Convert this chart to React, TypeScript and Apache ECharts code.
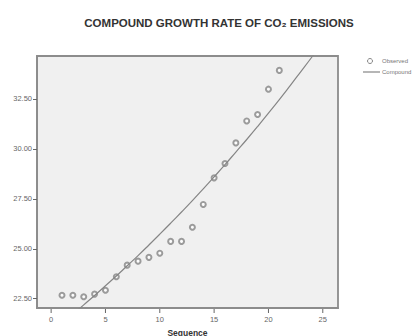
import React, { useEffect, useRef } from "react";
import * as echarts from "echarts";

const sequence = [1, 2, 3, 4, 5, 6, 7, 8, 9, 10, 11, 12, 13, 14, 15, 16, 17, 18, 19, 20, 21];
const observed = [22.67, 22.67, 22.6, 22.73, 22.92, 23.6, 24.18, 24.38, 24.57, 24.78, 25.37, 25.37, 26.08, 27.22, 28.55, 29.27, 30.3, 31.4, 31.72, 32.99, 33.93];
const curveX = [2, 3, 4, 5, 6, 7, 8, 9, 10, 11, 12, 13, 14, 15, 16, 17, 18, 19, 20, 21, 22, 23, 24, 25];
const compound = [21.72, 22.19, 22.66, 23.15, 23.64, 24.15, 24.66, 25.19, 25.73, 26.28, 26.84, 27.41, 28.0, 28.6, 29.21, 29.84, 30.47, 31.12, 31.79, 32.47, 33.17, 33.88, 34.6, 35.34];
const xTicks = [0, 5, 10, 15, 20, 25];
const yTicks = [22.5, 25, 27.5, 30, 32.5];
const legendNames = ["Observed", "Compound"];

const X_MIN = -1.3;
const X_MAX = 26.4;
const Y_MIN = 22.035;
const Y_MAX = 34.65;

export default function App() {
  const ref = useRef<HTMLDivElement>(null);
  useEffect(() => {
    if (!ref.current) return;
    const chart = echarts.init(ref.current, null, { renderer: "svg" });
    const font = "Liberation Sans, Arial, sans-serif";
    const markColor = "#858585";
    const frame = "#8c8c8c";
    const tickColor = "#666";
    chart.setOption({
      animation: false,
      backgroundColor: "#ffffff",
      title: {
        text: "COMPOUND GROWTH RATE OF CO₂ EMISSIONS",
        left: 214,
        top: 12,
        textAlign: "center",
        textStyle: { fontFamily: font, fontSize: 11.5, fontWeight: "bold", color: "#333" },
      },
      graphic: [
        { type: "circle", shape: { cx: 370, cy: 61, r: 2.5 }, style: { fill: "none", stroke: markColor, lineWidth: 1 } },
        { type: "line", shape: { x1: 363, y1: 72, x2: 380, y2: 72 }, style: { stroke: markColor, lineWidth: 1.2 } },
        { type: "text", x: 382, y: 61, style: { text: legendNames[0], fontFamily: font, fontSize: 6, fill: "#777", verticalAlign: "middle" } },
        { type: "text", x: 382, y: 72, style: { text: legendNames[1], fontFamily: font, fontSize: 6, fill: "#777", verticalAlign: "middle" } },
      ],
      grid: {
        left: 37,
        top: 56,
        width: 301,
        height: 252,
        outerBoundsMode: "none",
        show: true,
        backgroundColor: "#f0f0f0",
        borderColor: frame,
        borderWidth: 1.8,
      },
      xAxis: {
        type: "value",
        min: X_MIN,
        max: X_MAX,
        name: "Sequence",
        nameLocation: "middle",
        nameGap: 20,
        nameTextStyle: { fontFamily: font, fontSize: 8.5, fontWeight: "bold", color: "#333" },
        axisLine: { show: true, onZero: false, lineStyle: { color: frame, width: 1.8 } },
        splitLine: { show: false },
        axisTick: { show: false },
        axisLabel: { customValues: xTicks, fontFamily: font, fontSize: 7.5, color: "#666", margin: 7 },
      },
      yAxis: {
        type: "value",
        min: Y_MIN,
        max: Y_MAX,
        axisLine: { show: true, onZero: false, lineStyle: { color: frame, width: 1.8 } },
        splitLine: { show: false },
        axisTick: { show: true, inside: false, length: 4, customValues: yTicks, lineStyle: { color: tickColor, width: 1 } },
        axisLabel: {
          customValues: yTicks,
          fontFamily: font,
          fontSize: 7.5,
          color: "#666",
          margin: 5,
          formatter: (v: number) => v.toFixed(2),
        },
      },
      series: [
        {
          name: legendNames[0],
          type: "scatter",
          symbol: "emptyCircle",
          symbolSize: 5,
          itemStyle: { color: markColor, borderColor: markColor, borderWidth: 1 },
          data: sequence.map((s, i) => [s, observed[i]]),
        },
        {
          name: legendNames[1],
          type: "line",
          smooth: true,
          showSymbol: false,
          symbol: "none",
          clip: true,
          lineStyle: { color: markColor, width: 1.2 },
          itemStyle: { color: markColor },
          data: curveX.map((s, i) => [s, compound[i]]),
        },
        {
          name: "xTicks",
          type: "custom",
          silent: true,
          clip: false,
          encode: { x: 0 },
          data: xTicks.map((v) => [v]),
          renderItem: (params: any, api: any) => {
            const p = api.coord([api.value(0), Y_MIN]);
            return {
              type: "line",
              shape: { x1: p[0], y1: p[1] + 1, x2: p[0], y2: p[1] + 5 },
              style: { stroke: tickColor, lineWidth: 1 },
            };
          },
        },
      ],
    });
    return () => chart.dispose();
  }, []);
  return <div ref={ref} style={{ position: "absolute", left: 0, top: 0, width: 420, height: 336 }} />;
}
